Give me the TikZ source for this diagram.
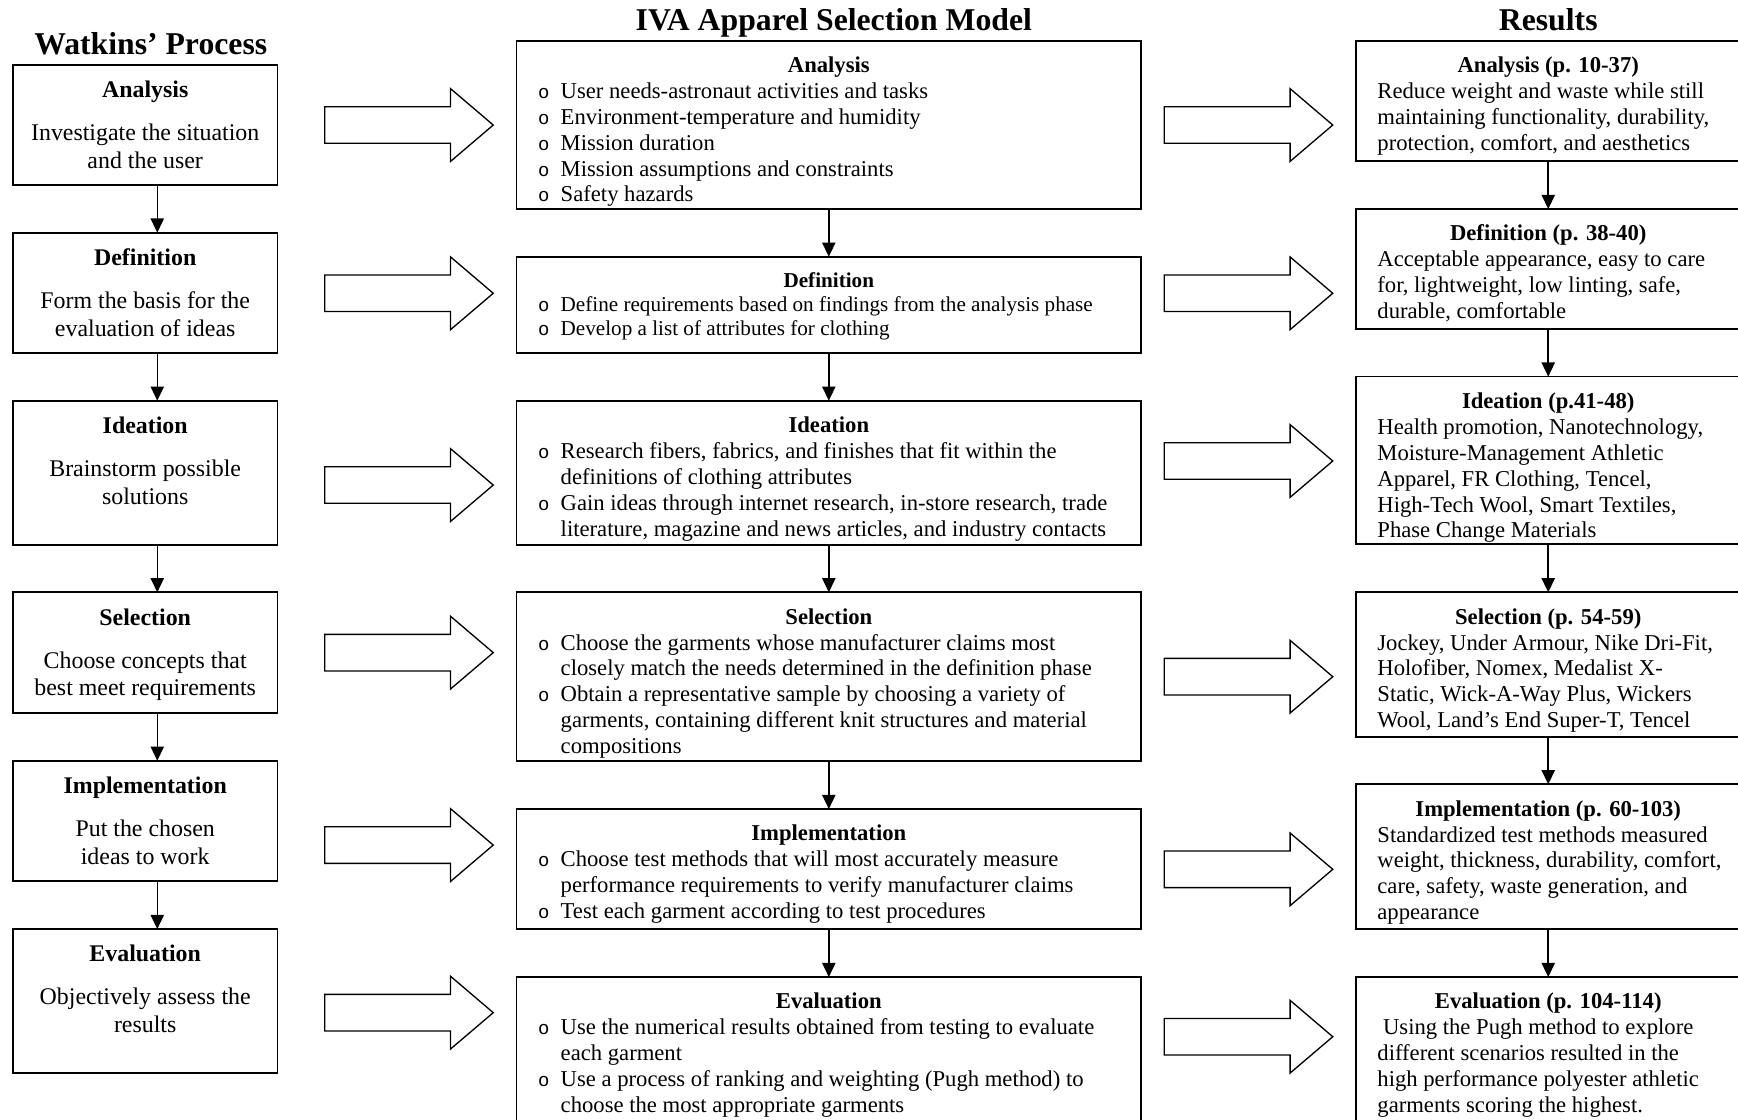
\documentclass[tikz,border=0pt]{standalone}
\usepackage{fontspec}
\setmainfont{Liberation Serif}
\newfontfamily\bulfont{Liberation Mono}
\usetikzlibrary{arrows.meta}

\newdimen\pxu \pxu=0.587pt
\newcommand{\bul}{\makebox[12pt][l]{{\bulfont\fontsize{10}{10}\selectfont o}}}
\newcommand{\ind}{\hspace*{12pt}}
\newcommand{\headline}[2][16.9pt]{\hspace*{-\leftskip}\makebox[\linewidth]{\rule{0pt}{#1}\textbf{#2}}}
\newcommand{\lefthead}[1]{\rule{0pt}{17.3pt}\textbf{#1}\\[8.1pt]}
\newcommand{\cellbody}[3]{\parbox[c][#1\pxu][t]{#2\pxu}{#3}}
\newcommand{\lefttext}{\fontsize{12.65}{14.7}\selectfont\centering}
\newcommand{\midtext}{\fontsize{12}{13.7}\selectfont\raggedright\leftskip=11.4pt\relax}
\newcommand{\righttext}{\fontsize{12}{13.7}\selectfont\raggedright\leftskip=11.2pt\relax}
\newcommand{\bigarrow}[3]{% name, tail x, centre y
  \coordinate (#1) at (#2,#3);
  \draw[blockarrow] (#1) ++(0,-16.5) -- ++(113.5,0) -- ++(0,-16.3) -- ++(38.5,32.8)
    -- ++(-38.5,32.8) -- ++(0,-16.3) -- ++(-113.5,0) -- cycle;}

\begin{document}
\begin{tikzpicture}[x=0.587pt,y=-0.587pt,
        cell/.style={% For all the boxes
            draw,
            line width=0.9pt,
            inner sep=0pt,
            outer sep=0pt,
            anchor=north west,
            },
        title/.style={% For the column titles
            font=\fontsize{16.8}{20}\selectfont\bfseries,
            inner sep=0pt,
            anchor=base,
            },
        flow/.style={% Arrows between the boxes
            line width=0.8pt,
            -{Triangle[length=7.5pt,width=7pt]},
            },
        blockarrow/.style={% Big hollow arrows between the columns
            draw,
            line width=0.7pt,
            line join=miter,
            fill=white,
            },
            ]
    \useasboundingbox (0,0) rectangle (1568,1010);
    \clip (0,0) rectangle (1568,1010);
    % Column titles
    \node[title] (tW) at (136,49) {Watkins’ Process};
    \node[title] (tM) at (752.3,27.7) {IVA Apparel Selection Model};
    \node[title] (tR) at (1396.8,27.7) {Results};
    % Draw the Watkins boxes named w...
    \node[cell] (wAna) at (11.7,58.6) {\cellbody{108.3}{238.6}{\lefttext
        \lefthead{Analysis}Investigate the situation\\ and the user}};
    \node[cell] (wDef) at (11.7,209.9) {\cellbody{108.3}{238.6}{\lefttext
        \lefthead{Definition}Form the basis for the\\ evaluation of ideas}};
    \node[cell] (wIde) at (11.7,361.5) {\cellbody{130.2}{238.6}{\lefttext
        \lefthead{Ideation}Brainstorm possible\\ solutions}};
    \node[cell] (wSel) at (11.7,534.4) {\cellbody{108.6}{238.6}{\lefttext
        \lefthead{Selection}Choose concepts that\\ best meet requirements}};
    \node[cell] (wImp) at (11.7,686.3) {\cellbody{108.5}{238.6}{\lefttext
        \lefthead{Implementation}Put the chosen\\ ideas to work}};
    \node[cell] (wEva) at (11.7,838.2) {\cellbody{129.6}{238.6}{\lefttext
        \lefthead{Evaluation}Objectively assess the\\ results}};
    % Draw the model boxes named m...
    \node[cell] (mAna) at (466,36.7) {\cellbody{151.9}{563.5}{\midtext
        \headline{Analysis}\\
        \bul User needs-astronaut activities and tasks\\
        \bul Environment-temperature and humidity\\
        \bul Mission duration\\
        \bul Mission assumptions and constraints\\
        \bul Safety hazards}};
    \node[cell] (mDef) at (466,231.6) {\cellbody{86.6}{563.5}{\midtext
        \fontsize{11.2}{12.8}\selectfont
        \headline[16.2pt]{Definition}\\
        \bul Define requirements based on findings from the analysis phase\\
        \bul Develop a list of attributes for clothing}};
    \node[cell] (mIde) at (466,361.5) {\cellbody{130.2}{563.5}{\midtext
        \headline{Ideation}\\
        \bul Research fibers, fabrics, and finishes that fit within the\\
        \ind definitions of clothing attributes\\
        \bul Gain ideas through internet research, in-store research, trade\\
        \ind literature, magazine and news articles, and industry contacts}};
    \node[cell] (mSel) at (466,534.4) {\cellbody{151.9}{563.5}{\midtext
        \headline{Selection}\\
        \bul Choose the garments whose manufacturer claims most\\
        \ind closely match the needs determined in the definition phase\\
        \bul Obtain a representative sample by choosing a variety of\\
        \ind garments, containing different knit structures and material\\
        \ind compositions}};
    \node[cell] (mImp) at (466,729.9) {\cellbody{108.3}{563.5}{\midtext
        \headline{Implementation}\\
        \bul Choose test methods that will most accurately measure\\
        \ind performance requirements to verify manufacturer claims\\
        \bul Test each garment according to test procedures}};
    \node[cell] (mEva) at (466,881.5) {\cellbody{140}{563.5}{\midtext
        \headline{Evaluation}\\
        \bul Use the numerical results obtained from testing to evaluate\\
        \ind each garment\\
        \bul Use a process of ranking and weighting (Pugh method) to\\
        \ind choose the most appropriate garments}};
    % Draw the result boxes named r...
    \node[cell] (rAna) at (1223.6,36.7) {\cellbody{108.6}{346.4}{\righttext
        \headline{Analysis (p. 10-37)}\\
        Reduce weight and waste while still\\
        maintaining functionality, durability,\\
        protection, comfort, and aesthetics}};
    \node[cell] (rDef) at (1223.6,188.6) {\cellbody{108.2}{346.4}{\righttext
        \headline{Definition (p. 38-40)}\\
        Acceptable appearance, easy to care\\
        for, lightweight, low linting, safe,\\
        durable, comfortable}};
    \node[cell] (rIde) at (1223.6,339.8) {\cellbody{151.3}{346.4}{\righttext
        \headline{Ideation (p.41-48)}\\
        Health promotion, Nanotechnology,\\
        Moisture-Management Athletic\\
        Apparel, FR Clothing, Tencel,\\
        High-Tech Wool, Smart Textiles,\\
        Phase Change Materials}};
    \node[cell] (rSel) at (1223.6,534.4) {\cellbody{130.2}{346.4}{\righttext
        \headline{Selection (p. 54-59)}\\
        Jockey, Under Armour, Nike Dri-Fit,\\
        Holofiber, Nomex, Medalist X-\\
        Static, Wick-A-Way Plus, Wickers\\
        Wool, Land’s End Super-T, Tencel}};
    \node[cell] (rImp) at (1223.6,707.6) {\cellbody{130.6}{346.4}{\righttext
        \headline{Implementation (p. 60-103)}\\
        Standardized test methods measured\\
        weight, thickness, durability, comfort,\\
        care, safety, waste generation, and\\
        appearance}};
    \node[cell] (rEva) at (1223.6,881.5) {\cellbody{140}{346.4}{\righttext
        \headline{Evaluation (p. 104-114)}\\
        \hspace*{3pt}Using the Pugh method to explore\\
        different scenarios resulted in the\\
        high performance polyester athletic\\
        garments scoring the highest.}};
    % Big arrows between the columns
    \foreach \y [count=\i] in {112.8,264.6,437.6,588.8,762.4,913.6}
        {\bigarrow{la\i}{293}{\y}}
    \foreach \y [count=\i] in {112.8,264.6,415.9,610.5,784.3,935.3}
        {\bigarrow{ra\i}{1050.4}{\y}}
    % Start connecting all.
    \foreach \a/\b in {Ana/Def,Def/Ide,Ide/Sel,Sel/Imp,Imp/Eva}
        {\draw[flow] ([xshift=6.4pt]w\a.south) -- ([xshift=6.4pt]w\b.north);
         \draw[flow] (m\a.south) -- (m\b.north);
         \draw[flow] (r\a.south) -- (r\b.north);}
\end{tikzpicture}
\end{document}
